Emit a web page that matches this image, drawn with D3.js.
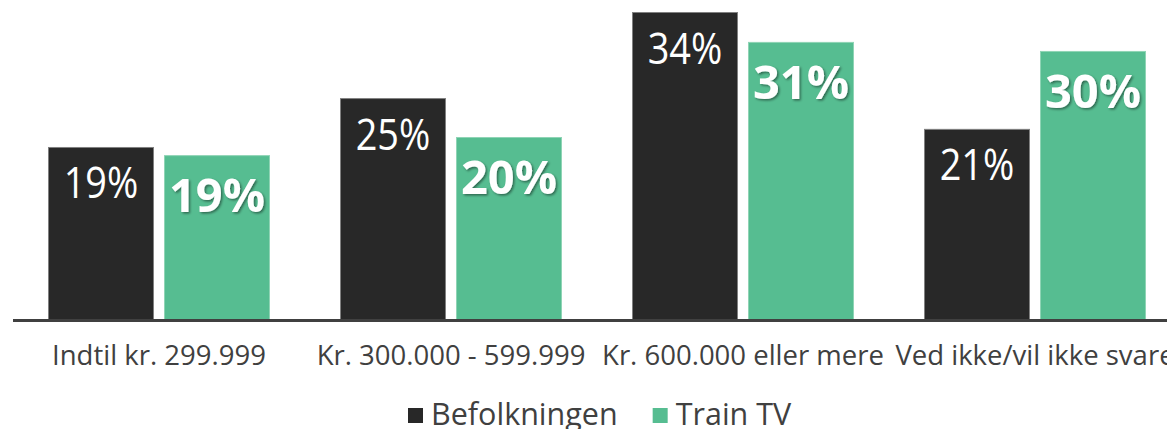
<!DOCTYPE html>
<html>
<head>
<meta charset="utf-8">
<script src="https://cdn.jsdelivr.net/npm/d3@7"></script>
<style>
  body { margin: 0; background: #fff; }
  svg { display: block; font-family: "Open Sans", sans-serif; }
</style>
</head>
<body>
<div id="chart"></div>
<script>
// data
var categories = ["Indtil kr. 299.999", "Kr. 300.000 - 599.999", "Kr. 600.000 eller mere", "Ved ikke/vil ikke svare"];
var seriesNames = ["Befolkningen", "Train TV"];
var befolkningen = [19.1, 24.5, 34.0, 21.1];
var trainTv = [18.2, 20.2, 30.7, 29.7];
// labels as printed on the bars
var befolkningenLabels = ["19%", "25%", "34%", "21%"];
var trainTvLabels = ["19%", "20%", "31%", "30%"];

var width = 1167,
    height = 429,
    baseY = 320;

var colors = { "Befolkningen": "#282828", "Train TV": "#56bd91" };
var strokes = { "Befolkningen": "#808080", "Train TV": "#8fd4b5" };

var svg = d3.select("#chart").append("svg")
    .attr("width", width)
    .attr("height", height);

// soft shadow for the bold labels
var defs = svg.append("defs");
var f = defs.append("filter").attr("id", "shadow")
    .attr("x", "-10%").attr("y", "-10%").attr("width", "130%").attr("height", "130%");
f.append("feDropShadow")
    .attr("dx", 1.5).attr("dy", 1.5).attr("stdDeviation", 1)
    .attr("flood-color", "#000").attr("flood-opacity", 0.45);

var x = d3.scaleBand()
    .domain(categories)
    .range([13, 13 + 4 * 292])
    .padding(0);

var xSub = d3.scaleBand()
    .domain(seriesNames)
    .range([35, 257])
    .paddingInner(10 / 116)
    .paddingOuter(0);

var y = d3.scaleLinear()
    .domain([0, 34 * 320 / 308])
    .range([baseY, 0]);

var rows = categories.map(function(c, i) {
  return { cat: c, vals: [
    { name: "Befolkningen", v: befolkningen[i], label: befolkningenLabels[i] },
    { name: "Train TV", v: trainTv[i], label: trainTvLabels[i] }
  ]};
});

var group = svg.selectAll(".grp")
    .data(rows)
  .enter().append("g")
    .attr("class", "grp")
    .attr("transform", function(d) { return "translate(" + x(d.cat) + ",0)"; });

group.selectAll("rect")
    .data(function(d) { return d.vals; })
  .enter().append("rect")
    .attr("x", function(d) { return xSub(d.name) + 0.5; })
    .attr("y", function(d) { return y(d.v) + 0.5; })
    .attr("width", xSub.bandwidth() - 1)
    .attr("height", function(d) { return baseY - 1 - y(d.v); })
    .attr("fill", function(d) { return colors[d.name]; })
    .attr("stroke", function(d) { return strokes[d.name]; })
    .attr("stroke-width", 1);

// value labels: narrow regular for Befolkningen, bold for Train TV
group.selectAll("text.val")
    .data(function(d) { return d.vals; })
  .enter().append("text")
    .attr("class", "val")
    .attr("transform", function(d) {
      var cx = xSub(d.name) + xSub.bandwidth() / 2;
      if (d.name === "Befolkningen")
        return "translate(" + cx + "," + (y(d.v) + 51.5) + ") scale(0.88,1)";
      return "translate(" + cx + "," + (y(d.v) + 57) + ")";
    })
    .attr("text-anchor", "middle")
    .attr("fill", "#fff")
    .style("font-size", function(d) { return d.name === "Befolkningen" ? "43px" : "47px"; })
    .style("font-weight", function(d) { return d.name === "Befolkningen" ? 400 : 700; })
    .attr("filter", function(d) { return d.name === "Train TV" ? "url(#shadow)" : null; })
    .text(function(d) { return d.label; });

// baseline
svg.append("line")
    .attr("x1", 13).attr("x2", width)
    .attr("y1", baseY + 0.5).attr("y2", baseY + 0.5)
    .attr("stroke", "#404040")
    .attr("stroke-width", 3);

// category labels
svg.selectAll("text.cat")
    .data(categories)
  .enter().append("text")
    .attr("class", "cat")
    .attr("x", function(d) { return x(d) + x.bandwidth() / 2; })
    .attr("y", 364.5)
    .attr("text-anchor", "middle")
    .attr("fill", "#404040")
    .style("font-size", "27.5px")
    .text(function(d) { return d; });

// legend
var legend = svg.append("g").attr("transform", "translate(408,0)");
var lx = 0;
seriesNames.forEach(function(name) {
  var item = legend.append("g").attr("transform", "translate(" + lx + ",0)");
  item.append("rect")
      .attr("x", 0).attr("y", 408)
      .attr("width", 15).attr("height", 15)
      .attr("fill", colors[name]);
  var t = item.append("text")
      .attr("x", 23).attr("y", 424.5)
      .attr("fill", "#404040")
      .style("font-size", "30.5px")
      .text(name);
  lx += 23 + t.node().getComputedTextLength() + 35;
});
</script>
</body>
</html>
